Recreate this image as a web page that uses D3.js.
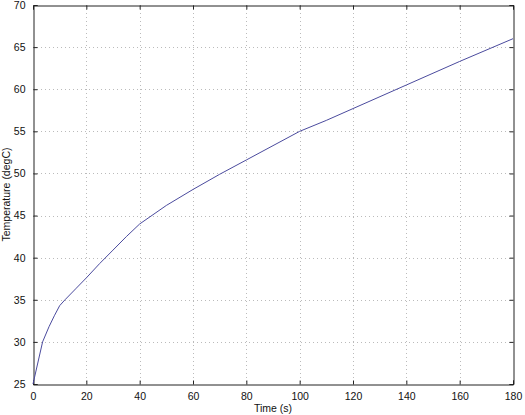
<!DOCTYPE html>
<html>
<head>
<meta charset="utf-8">
<script src="https://d3js.org/d3.v7.min.js"></script>
<style>
  body { margin: 0; background: #fff; }
  text { font-family: "Liberation Sans", Arial, sans-serif; }
</style>
</head>
<body>
<script>
// temperature log
var times = [0, 3.6, 6, 8, 10, 12, 16, 20, 25, 30, 35, 40, 50, 60, 70, 80, 90, 100, 110, 120, 140, 160, 180];
var temps = [25.0, 30.0, 31.8, 33.1, 34.3, 35.0, 36.3, 37.6, 39.3, 40.9, 42.5, 44.0, 46.2, 48.1, 49.9, 51.6, 53.3, 55.0, 56.3, 57.7, 60.5, 63.3, 66.0];
var xTicks = [0, 20, 40, 60, 80, 100, 120, 140, 160, 180];
var yTicks = [25, 30, 35, 40, 45, 50, 55, 60, 65, 70];

var width = 525,
    height = 415,
    plotL = 33, plotR = 513, plotT = 5, plotB = 384;

var svg = d3.select("body").append("svg")
  .attr("width", width)
  .attr("height", height);

var x = d3.scaleLinear().domain([0, 180]).range([plotL, plotR]);
var y = d3.scaleLinear().domain([25, 70]).range([plotB, plotT]);

// grid
svg.append("g").selectAll("line").data(xTicks.slice(1, -1)).enter()
  .append("line")
  .attr("x1", function(d) { return Math.round(x(d)) + 0.5; })
  .attr("x2", function(d) { return Math.round(x(d)) + 0.5; })
  .attr("y1", plotT).attr("y2", plotB)
  .attr("stroke", "#bbb").attr("stroke-dasharray", "1,3");
svg.append("g").selectAll("line").data(yTicks.slice(1, -1)).enter()
  .append("line")
  .attr("y1", function(d) { return Math.round(y(d)) + 0.5; })
  .attr("y2", function(d) { return Math.round(y(d)) + 0.5; })
  .attr("x1", plotL).attr("x2", plotR)
  .attr("stroke", "#bbb").attr("stroke-dasharray", "1,3");

// axes, ticks inward
var gx = svg.append("g").attr("transform", "translate(0," + (plotB + 0.5) + ")")
  .call(d3.axisBottom(x).tickValues(xTicks).tickSize(-4).tickPadding(8));
var gxTop = svg.append("g").attr("transform", "translate(0," + (plotT + 0.5) + ")")
  .call(d3.axisTop(x).tickValues(xTicks).tickSize(-4).tickFormat(""));
var gy = svg.append("g").attr("transform", "translate(" + (plotL + 0.5) + ",0)")
  .call(d3.axisLeft(y).tickValues(yTicks).tickSize(-4).tickPadding(8));
var gyRight = svg.append("g").attr("transform", "translate(" + (plotR + 0.5) + ",0)")
  .call(d3.axisRight(y).tickValues(yTicks).tickSize(-4).tickFormat(""));

[gx, gxTop, gy, gyRight].forEach(function(g) {
  g.selectAll("path").attr("stroke", "#222");
  g.selectAll("line").attr("stroke", "#222");
  g.selectAll("text").attr("font-size", 10.5).attr("fill", "#111")
    .attr("font-family", "Liberation Sans, Arial, sans-serif");
});

// curve
var line = d3.line()
  .x(function(d, i) { return x(times[i]); })
  .y(function(d) { return y(d); });

svg.append("path")
  .datum(temps)
  .attr("d", line)
  .attr("fill", "none")
  .attr("stroke", "#4b4b9e")
  .attr("stroke-width", 1);

// labels
svg.append("text")
  .attr("x", (plotL + plotR) / 2)
  .attr("y", 412)
  .attr("text-anchor", "middle")
  .attr("font-size", 10.5)
  .attr("fill", "#111")
  .text("Time (s)");

svg.append("text")
  .attr("transform", "translate(10," + (plotT + plotB) / 2 + ") rotate(-90)")
  .attr("text-anchor", "middle")
  .attr("font-size", 10.5)
  .attr("fill", "#111")
  .text("Temperature (degC)");
</script>
</body>
</html>
